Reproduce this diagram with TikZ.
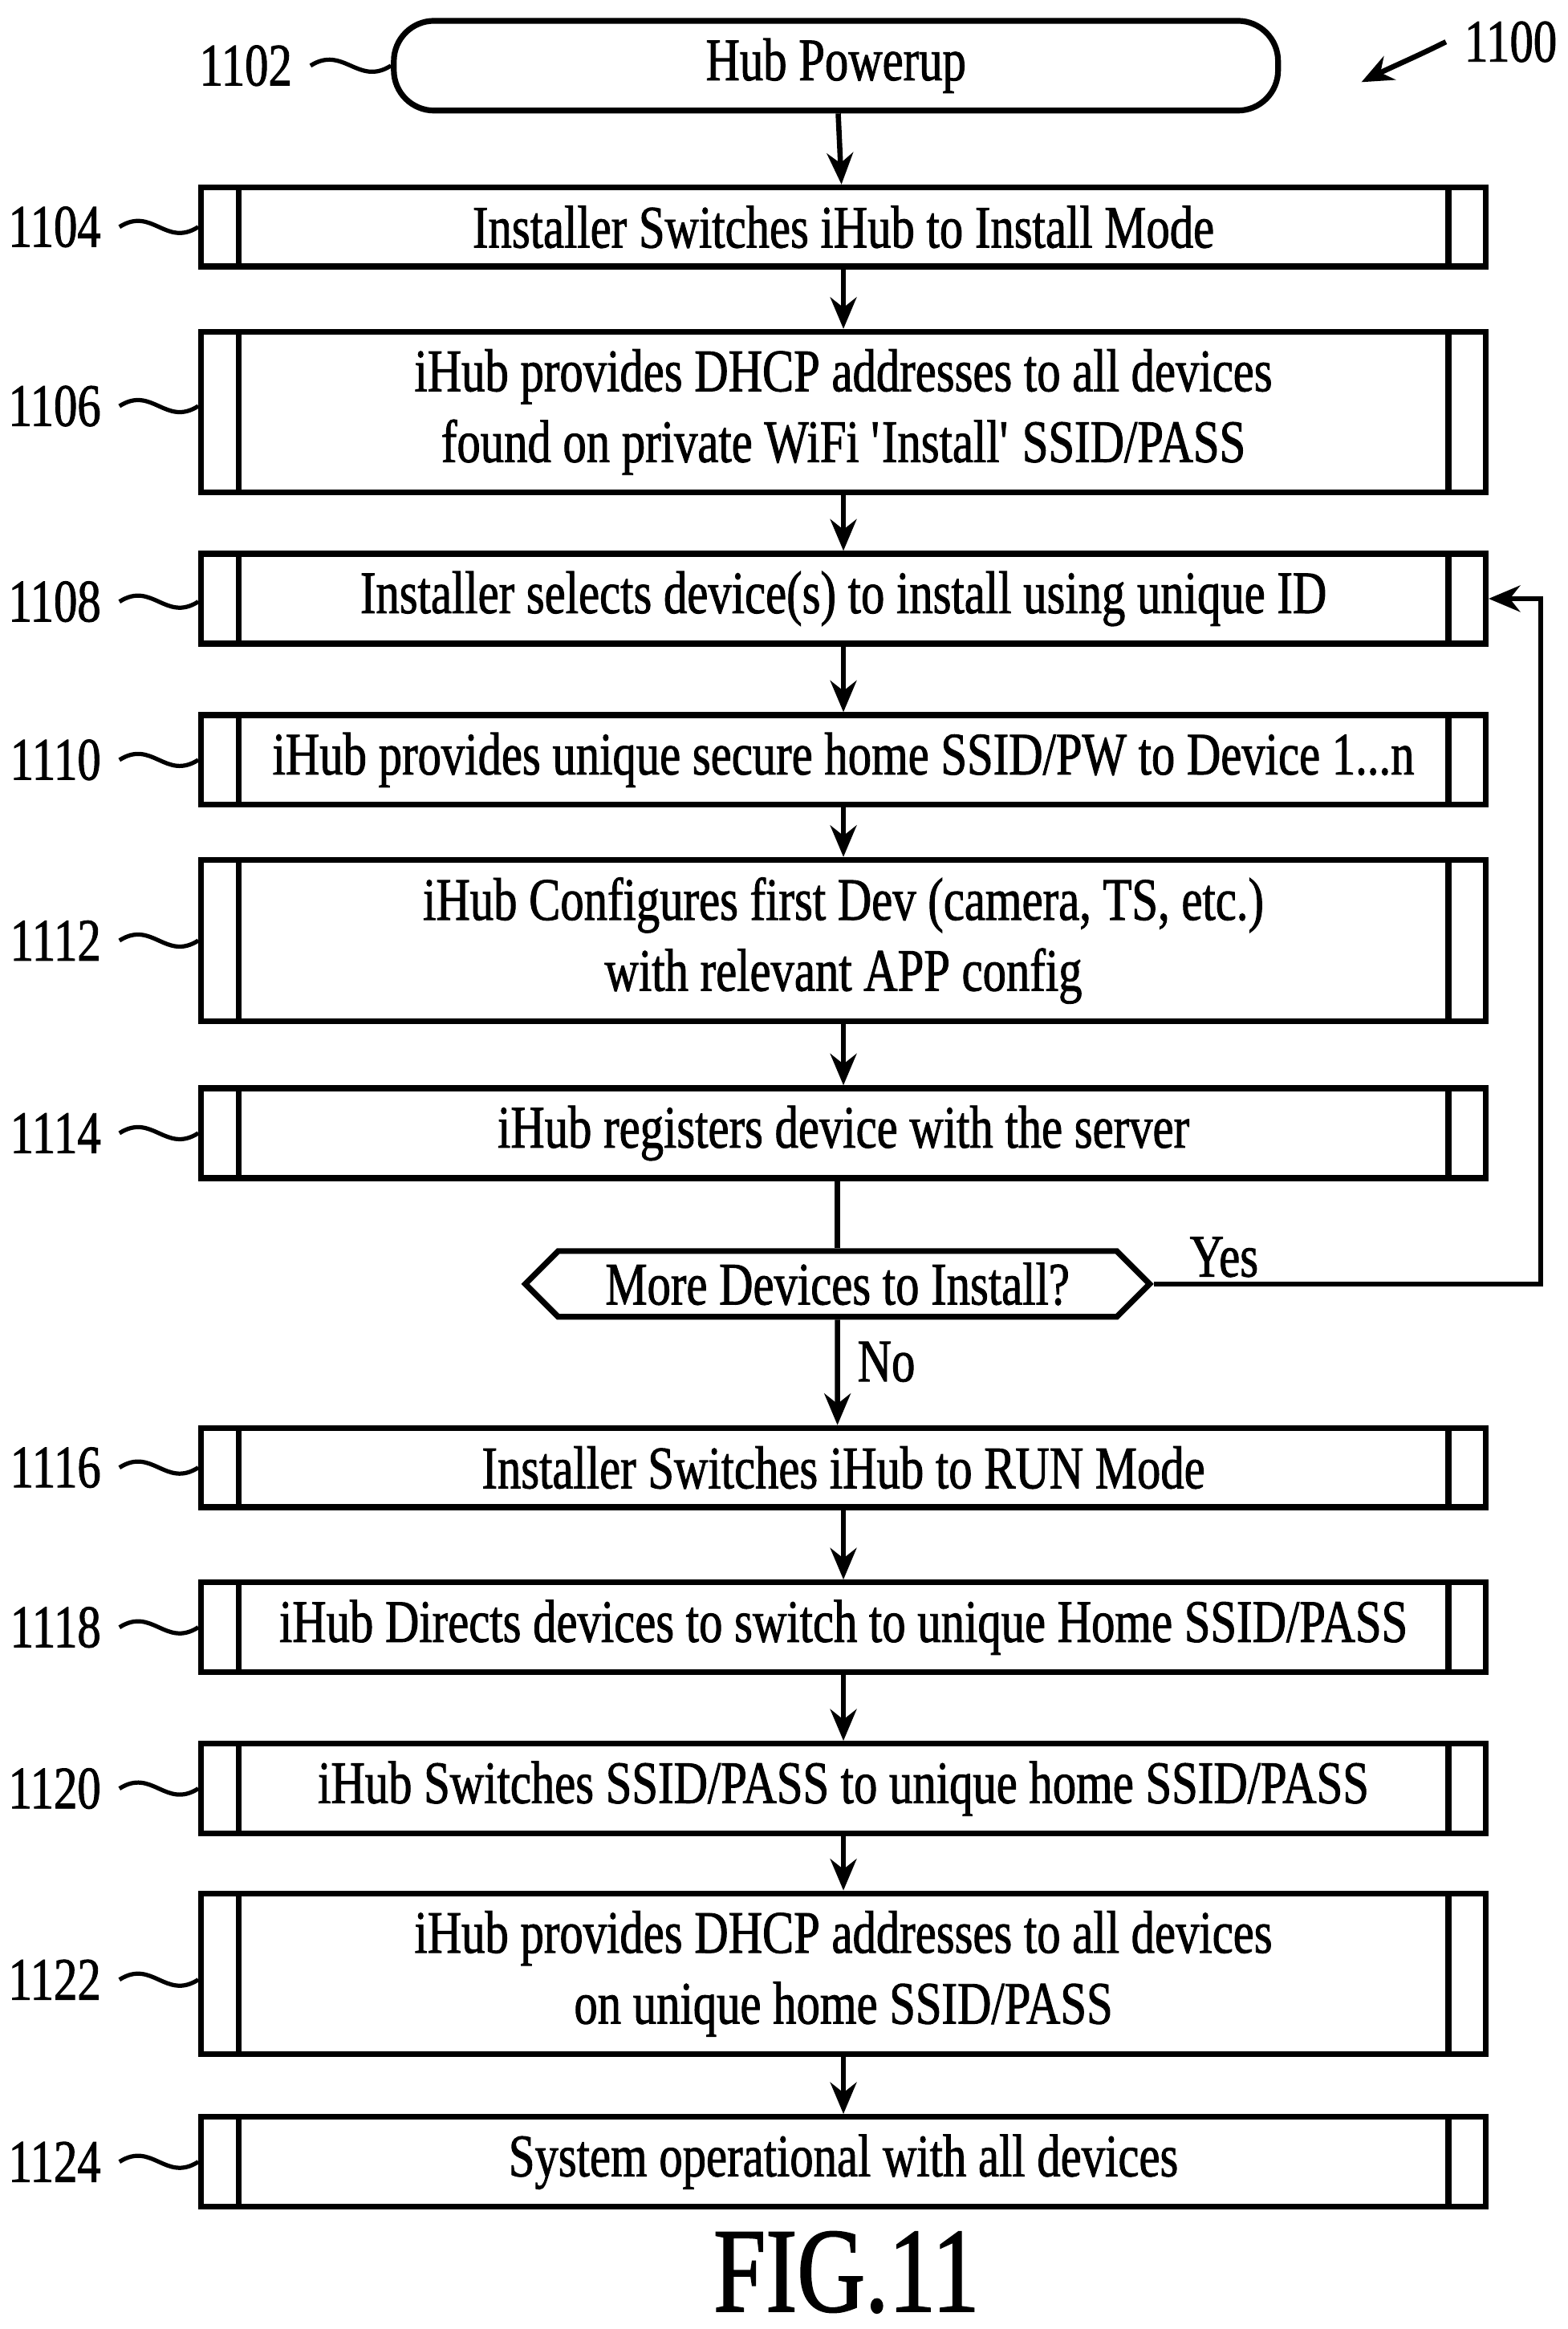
\documentclass[tikz,border=0pt]{standalone}
\usepackage{fontspec}
\setmainfont{Liberation Serif}[FakeStretch=0.78,FakeBold=1.2]
\usetikzlibrary{shapes.symbols,arrows.meta,calc}
\tikzset{
  proc/.style={draw,line width=1.1pt,minimum width=8.6cm,align=center,font=\fontsize{11.5}{13.5}\selectfont,
    path picture={\draw[line width=1.1pt]
      ([xshift=0.25cm]path picture bounding box.north west) -- ([xshift=0.25cm]path picture bounding box.south west)
      ([xshift=-0.25cm]path picture bounding box.north east) -- ([xshift=-0.25cm]path picture bounding box.south east);}},
  num/.style={font=\fontsize{11.5}{13.5}\selectfont,anchor=east},
  flow/.style={line width=1pt,-{Stealth[length=6pt,width=5pt]}},
  tilde/.style={line width=0.8pt}
}
\begin{document}
\begin{tikzpicture}[x=0.01cm,y=-0.01cm]
\useasboundingbox (0,0) rectangle (1050,1560);
% start
\node[draw,line width=1.1pt,rounded corners=0.27cm,minimum width=5.92cm,minimum height=0.54cm,
  font=\fontsize{11.5}{13.5}\selectfont] (start) at (560,44) {Hub Powerup};
\node[num] (l1102) at (208,44) {1102};
\draw[tilde] (l1102.east) .. controls +(22,-14) and +(-22,14) .. (start.west);
% steps
\node[proc,minimum height=0.53cm] (s1104) at (565,152) {Installer Switches iHub to Install Mode};
\node[proc,minimum height=0.88cm] (s1106) at (565,276) {iHub provides DHCP addresses to all devices\\found on private WiFi \textquotesingle Install\textquotesingle\ SSID/PASS};
\node[proc,minimum height=0.54cm] (s1108) at (565,401) {Installer selects device(s) to install using unique ID};
\node[proc,minimum height=0.53cm] (s1110) at (565,509) {iHub provides unique secure home SSID/PW to Device 1...n};
\node[proc,minimum height=1.04cm] (s1112) at (565,630) {iHub Configures first Dev (camera, TS, etc.)\\with relevant APP config};
\node[proc,minimum height=0.53cm] (s1114) at (565,759) {iHub registers device with the server};
\node[draw,line width=1.1pt,shape=signal,signal to=east and west,minimum width=4.18cm,minimum height=0.44cm,
  inner sep=2pt,font=\fontsize{11.5}{13.5}\selectfont] (more) at (561,860) {More Devices to Install?};
\node[proc,minimum height=0.53cm] (s1116) at (565,983) {Installer Switches iHub to RUN Mode};
\node[proc,minimum height=0.52cm] (s1118) at (565,1090) {iHub Directs devices to switch to unique Home SSID/PASS};
\node[proc,minimum height=0.53cm] (s1120) at (565,1198) {iHub Switches SSID/PASS to unique home SSID/PASS};
\node[proc,minimum height=0.88cm] (s1122) at (565,1322) {iHub provides DHCP addresses to all devices\\on unique home SSID/PASS};
\node[proc,minimum height=0.53cm] (s1124) at (565,1448) {System operational with all devices};
% numbers
\foreach \n/\y in {1104/152,1106/272,1108/403,1110/509,1112/630,1114/759,1116/983,1118/1090,1120/1198,1122/1326,1124/1448}{
  \node[num] (l\n) at (80,\y) {\n};
  \draw[tilde] (l\n.east) .. controls +(22,-14) and +(-22,14) .. (s\n.west |- l\n.east);
}
% arrows
\draw[flow] (start) -- (s1104);
\draw[flow] (s1104) -- (s1106);
\draw[flow] (s1106) -- (s1108);
\draw[flow] (s1108) -- (s1110);
\draw[flow] (s1110) -- (s1112);
\draw[flow] (s1112) -- (s1114);
\draw[line width=1pt] (s1114.south -| more.north) -- (more.north);
\draw[flow] (more) -- node[right,pos=0.4,font=\fontsize{11.5}{13.5}\selectfont] (no) {No} (s1116.north -| more.south);
\draw[flow] (more.east) -- (1032,860) |- (s1108.east);
\node[font=\fontsize{11.5}{13.5}\selectfont] (yes) at (820,842) {Yes};
\draw[flow] (s1116) -- (s1118);
\draw[flow] (s1118) -- (s1120);
\draw[flow] (s1120) -- (s1122);
\draw[flow] (s1122) -- (s1124);
% figure ref
\node[font=\fontsize{11.5}{13.5}\selectfont] (l1100) at (1012,28) {1100};
\draw[flow] (l1100.west) .. controls +(-20,10) and +(20,-10) .. (912,55);
\node[font=\fontsize{23}{26}\selectfont] (fig) at (567,1522) {FIG.11};
\end{tikzpicture}
\end{document}
